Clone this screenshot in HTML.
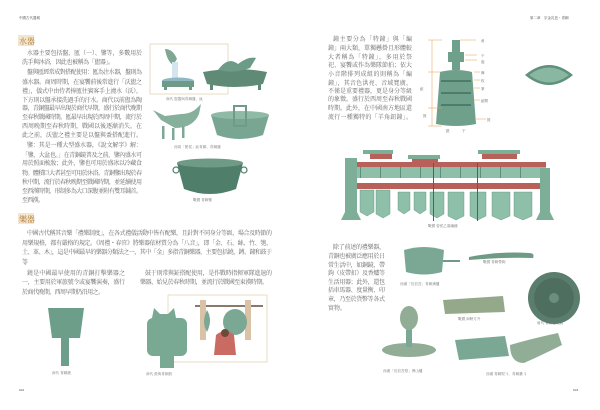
<!DOCTYPE html>
<html><head><meta charset="utf-8"><style>
html,body{margin:0;padding:0;background:#fff;}
svg{display:block}
text{font-family:"Liberation Serif","Noto Serif CJK SC","Noto Sans CJK TC",serif;}
</style></head><body>
<svg width="600" height="410" viewBox="0 0 600 410" xmlns="http://www.w3.org/2000/svg">
<rect width="600" height="410" fill="#fff"/>
<g fill="#444" font-size="3.5">
<text x="19" y="19">中國古代器械</text>
<text x="530" y="19">第二章　宗金乳芭・青銅</text>
<text x="19" y="391">042</text>
<text x="573" y="391">043</text>
</g>
<rect x="18" y="35" width="16" height="11" fill="#f3e6cf"/>
<text x="19" y="44" font-size="8" fill="#b07a3a">水器</text>
<rect x="18" y="213" width="16" height="11" fill="#f3e6cf"/>
<text x="19" y="222" font-size="8" fill="#b07a3a">樂器</text>
<g fill="#666" font-size="6" lengthAdjust="spacingAndGlyphs">
<text x="27" y="55" textLength="115">水器主要包括盤、匜（一）、鑒等，多數用於</text>
<text x="22" y="64" textLength="92">洗手與沐浴，因此也被稱為「盥器」。</text>
<text x="27" y="74" textLength="115">盤與匜經常成對搭配使用：匜為注水器，盤則為</text>
<text x="22" y="84" textLength="120">盛水器。商周時期，在宴饗前後常進行「沃盥之</text>
<text x="22" y="93" textLength="120">禮」，儀式中由侍者捧匜往賓客手上澆水（沃），</text>
<text x="22" y="102" textLength="120">下方則以盤承接洗過手的汙水。商代以前盥為陶</text>
<text x="22" y="110" textLength="120">器，青銅盤最早出現於商代早期，盛行於商代晚期</text>
<text x="22" y="119" textLength="120">至春秋戰國時期。匜最早出現於西周中期，流行於</text>
<text x="22" y="128" textLength="120">西周晚期至春秋時期，戰國以後逐漸消失。在</text>
<text x="22" y="137" textLength="120">此之前，沃盥之禮主要是以盤與盉搭配進行。</text>
<text x="27" y="147" textLength="115">鑒：其是一種大型盛水器，《說文解字》解：</text>
<text x="22" y="157" textLength="120">「鑒，大盆也。」在青銅鏡普及之前，鑒內盛水可</text>
<text x="22" y="165" textLength="120">用於照面梳妝；此外，鑒也可用於盛冰以冷藏食</text>
<text x="22" y="175" textLength="120">物。體積巨大者甚至可用於沐浴。青銅鑒出現於春</text>
<text x="22" y="184" textLength="120">秋中期，流行於春秋晚期至戰國時期，並延續使用</text>
<text x="22" y="193" textLength="120">至西漢時期，形制多為大口深腹並附有雙耳鋪首。</text>
<text x="22" y="202" textLength="22">至西漢。</text>
<text x="27" y="235" textLength="245">中國古代稱其音樂「禮樂制度」，在各式禮儀活動中皆有配樂，且針對不同身分等級、場合及時節的</text>
<text x="22" y="245" textLength="250">用樂規格，都有嚴格的規定。《周禮・春官》將樂器依材質分為「八音」，即「金、石、絲、竹、匏、</text>
<text x="22" y="254" textLength="250">土、革、木」，這是中國最早的樂器分類法之一，其中「金」多指青銅樂器，主要包括鐃、鎛、鐘和鼓于</text>
<text x="22" y="264" textLength="8">等。</text>
<text x="27" y="275" textLength="98">鐃是中國最早使用的青銅打擊樂器之</text>
<text x="22" y="284" textLength="103">一，主要用於軍旅號令或宴饗演奏，盛行</text>
<text x="22" y="294" textLength="82">於商代晚期，西周早期仍沿用之。</text>
<text x="145" y="275" textLength="127">鼓于則常與鉦搭配使用，是作戰時指揮軍隊進退的</text>
<text x="140" y="284" textLength="128">樂器，始見於春秋時期，並流行於戰國至東漢時期。</text>
<text x="333" y="41" textLength="79">鐘主要分為「特鐘」與「編</text>
<text x="328" y="50" textLength="84">鐘」兩大類，單獨懸掛且形體較</text>
<text x="328" y="59" textLength="84">大者稱為「特鐘」，多用於祭</text>
<text x="328" y="67" textLength="84">祀、宴饗或作為樂隊節拍；依大</text>
<text x="328" y="76" textLength="84">小音階排列成組的則稱為「編</text>
<text x="328" y="85" textLength="84">鐘」，其音色洪亮、音域寬廣，</text>
<text x="328" y="93" textLength="84">不僅是重要禮器，更是身分等級</text>
<text x="328" y="101" textLength="84">的象徵。盛行於西周至春秋戰國</text>
<text x="328" y="110" textLength="84">時期。此外，在中國南方地區還</text>
<text x="328" y="119" textLength="84">流行一種獨特的「羊角鈕鐘」。</text>
<text x="333" y="249" textLength="52">除了前述的禮樂器，</text>
<text x="328" y="258" textLength="57">青銅也被廣泛應用於日</text>
<text x="328" y="267" textLength="57">常生活中，如銅鏡、帶</text>
<text x="328" y="275" textLength="57">鉤（皮帶扣）及香爐等</text>
<text x="328" y="284" textLength="57">生活用器；此外，還包</text>
<text x="328" y="292" textLength="57">括車馬器、度量衡、印</text>
<text x="328" y="301" textLength="57">章，乃至於貨幣等各式</text>
<text x="328" y="310" textLength="18">實物。</text>
</g>
<g fill="#777" font-size="3.6">
<text x="166" y="100">商代 盥器與青銅盤、匜</text>
<text x="174" y="148">西周「匽侯」匜青銅、青銅盤</text>
<text x="193" y="201">戰國 青銅鑒</text>
<text x="52" y="374">商代 青銅鐃</text>
<text x="146" y="375">商代 鼓與青銅鼓</text>
<text x="428" y="227">戰國 曾侯乙墓編鐘</text>
<text x="400" y="285">西漢「長信宮」青銅熏爐</text>
<text x="483" y="263">戰國 青銅帶鉤</text>
<text x="537" y="324">唐代 青銅菱花鏡</text>
<text x="458" y="320">戰國 商鞅方升</text>
<text x="383" y="372">西漢「長信宮燈」博山爐</text>
<text x="486" y="375">西漢 青銅熨斗、青銅鐎斗</text>
</g>
<!-- left illustrations -->
<rect x="150" y="44" width="78" height="50" fill="none" stroke="#e2cfae" stroke-width="0.7"/>
<path d="M165 49 q8 0 12 10 l-4 6 q-6 -4 -8 -16z" fill="#7ea894"/>
<rect x="172" y="62" width="6" height="16" fill="#d3e6f0"/>
<ellipse cx="178" cy="81" rx="16" ry="3.5" fill="#8fb8c4"/>
<rect x="162" y="81" width="32" height="6" fill="#6f9a86"/>
<rect x="164" y="86" width="3" height="4" fill="#6f9a86"/><rect x="189" y="86" width="3" height="4" fill="#6f9a86"/>
<path d="M203 72 q32 -6 64 0 l-4 12 q-28 6 -56 0z" fill="#5f8a76"/>
<path d="M218 70 q10 -14 20 -6 q10 -8 18 -6 l-6 10 q-16 6 -32 2z" fill="#6d9b87"/>
<rect x="210" y="84" width="3" height="6" fill="#5f8a76"/><rect x="258" y="84" width="3" height="6" fill="#5f8a76"/>
<path d="M153 110 l12 6 l16 -2 q10 0 16 -6 l4 -4 l-2 10 q-6 14 -24 14 l-14 -8z" fill="#86b09c"/>
<rect x="162" y="126" width="2.5" height="13" fill="#7ea894"/><rect x="172" y="128" width="2.5" height="12" fill="#7ea894"/><rect x="182" y="126" width="2.5" height="12" fill="#7ea894"/>
<path d="M211 115 q30 -6 58 0 l-6 20 q-23 8 -46 0z" fill="#78a692"/>
<ellipse cx="240" cy="115" rx="29" ry="4" fill="#8fbaa5"/>
<rect x="234" y="106" width="12" height="20" fill="none" stroke="#6f9a86" stroke-width="2"/>
<path d="M177 163 q33 -8 66 0 l-7 26 q-26 10 -52 0z" fill="#4f7f6a"/>
<ellipse cx="210" cy="163" rx="33" ry="4.5" fill="#6f9a86"/>
<circle cx="176" cy="170" r="3" fill="none" stroke="#4f7f6a" stroke-width="1.2"/><circle cx="244" cy="170" r="3" fill="none" stroke="#4f7f6a" stroke-width="1.2"/>
<path d="M48 308 l36 0 l-4 30 l-28 0z" fill="#6d9e8a"/>
<rect x="61" y="338" width="8" height="28" fill="#6d9e8a"/>
<rect x="168" y="295" width="99" height="67" fill="none" stroke="#e2cfae" stroke-width="0.7"/>
<rect x="147" y="318" width="40" height="38" rx="6" fill="#79a893"/>
<path d="M152 318 l2 -10 l6 6 l8 0 l6 -6 l2 10z" fill="#79a893"/>
<rect x="160" y="356" width="14" height="12" fill="#79a893"/>
<rect x="195" y="305" width="68" height="2" fill="#8a7a6a"/>
<rect x="200" y="300" width="6" height="40" fill="#d9c2a6"/><rect x="245" y="300" width="6" height="40" fill="#d9c2a6"/>
<ellipse cx="235" cy="322" rx="12" ry="13" fill="#7aa894"/>
<path d="M207 310 q6 10 0 22 q-6 -10 0 -22z" fill="#7aa894"/>
<path d="M216 335 q10 -8 18 0 l2 20 l-22 0z" fill="#c96b62"/>
<circle cx="225" cy="333" r="4" fill="#6b4a3a"/>
<!-- bell diagram -->
<rect x="452" y="40" width="8" height="30" fill="#6fa08b"/>
<rect x="448" y="52" width="16" height="10" fill="#6fa08b"/>
<path d="M440 72 q16 -4 32 0 l4 52 q-20 4 -40 0z" fill="#6fa08b"/>
<g fill="#4d7c68"><rect x="441" y="80" width="30" height="2"/><rect x="441" y="92" width="30" height="2"/><rect x="441" y="104" width="30" height="2"/></g>
<g stroke="#e0a04a" stroke-width="0.5" fill="none">
<path d="M432 40 v86 M428 40h14 M428 72h14 M428 108h14 M428 126h14"/>
<path d="M460 40h16 M465 55h12 M465 60h12 M474 72h6 M474 80h6 M474 88h6 M474 100h6 M476 119h10"/>
</g>
<g fill="#666" font-size="3.5"><text x="481" y="42">甬</text><text x="481" y="57">干</text><text x="481" y="63">旋</text><text x="481" y="74">舞</text><text x="481" y="82">枚</text><text x="481" y="90">篆</text><text x="481" y="102">鉦間</text><text x="487" y="121">鼓</text><text x="420" y="90">鉦</text><text x="423" y="117">鼓</text><text x="446" y="132">銑</text><text x="462" y="132">于</text></g>
<path d="M525 75 q24 -20 48 0 q-24 20 -48 0z" fill="#5f917c"/>
<path d="M529 75 q20 -15 40 0 q-20 15 -40 0z" fill="#8ab7a1"/>
<!-- bell rack -->
<g>
<rect x="363" y="150" width="30" height="4" fill="#7dae98"/><rect x="408" y="155" width="32" height="4" fill="#7dae98"/><rect x="478" y="150" width="42" height="4" fill="#7dae98"/>
<rect x="370" y="154" width="22" height="5" fill="#b8605a"/><rect x="412" y="159" width="26" height="5" fill="#b8605a"/><rect x="482" y="154" width="35" height="5" fill="#b8605a"/>
<rect x="350" y="162" width="196" height="5" fill="#b8605a"/>
<rect x="350" y="167" width="196" height="11" fill="#8ebfa8"/>
<g fill="#5d8f7a"><rect x="360" y="167" width="1" height="11"/><rect x="380" y="167" width="1" height="11"/><rect x="400" y="167" width="1" height="11"/><rect x="420" y="167" width="1" height="11"/><rect x="440" y="167" width="1" height="11"/><rect x="460" y="167" width="1" height="11"/><rect x="480" y="167" width="1" height="11"/><rect x="500" y="167" width="1" height="11"/><rect x="520" y="167" width="1" height="11"/></g>
<rect x="355" y="183" width="190" height="6" fill="#b8605a"/>
<path d="M345 158 h12 v54 l4 8 h-20 l4 -8z" fill="#7dae98"/>
<path d="M540 168 h10 v44 l4 8 h-18 l4 -8z" fill="#7dae98"/>
<g fill="#8ebfa8" stroke="#5d8f7a" stroke-width="0.4">
<path d="M360 190 h14 v22 l-7 4 l-7 -4z"/><path d="M376 190 h14 v24 l-7 4 l-7 -4z"/><path d="M398 192 h12 v18 l-6 4 l-6 -4z"/><path d="M414 192 h12 v18 l-6 4 l-6 -4z"/><path d="M430 192 h14 v22 l-7 4 l-7 -4z"/><path d="M448 192 h16 v24 l-8 4 l-8 -4z"/><path d="M470 192 h16 v24 l-8 4 l-8 -4z"/><path d="M492 192 h18 v24 l-9 4 l-9 -4z"/><path d="M514 192 h18 v24 l-9 4 l-9 -4z"/>
</g>
<rect x="433" y="163" width="1" height="58" fill="#8a4a40"/><rect x="477" y="163" width="1" height="58" fill="#8a4a40"/>
</g>
<!-- daily objects -->
<path d="M404 250 q20 -6 40 0 l-2 22 q-18 5 -36 0z" fill="#7aa894"/>
<rect x="443" y="260" width="17" height="2" fill="#6f9a86"/>
<path d="M469 257 q30 -6 60 -4 q6 0 4 5 q-30 -1 -64 2z" fill="#6f9a86"/>
<circle cx="554" cy="298" r="26" fill="#5a7d6e"/><circle cx="554" cy="298" r="20" fill="#4e6e60"/><circle cx="554" cy="298" r="5" fill="#6b8e7e"/>
<path d="M443 300 l60 -4 l2 16 l-60 2z" fill="#94a98a"/>
<ellipse cx="409" cy="350" rx="27" ry="7" fill="#92ad96"/>
<rect x="406" y="325" width="6" height="22" fill="#7aa894"/>
<ellipse cx="409" cy="318" rx="9" ry="12" fill="#92ad96"/>
<path d="M455 340 l50 -4 l4 20 l-50 4z" fill="#7aa894"/>
<path d="M510 345 q20 -6 48 -12 l4 12 q-20 10 -38 18 q-14 0 -14 -18z" fill="#92ad96"/>
</svg>
</body></html>
